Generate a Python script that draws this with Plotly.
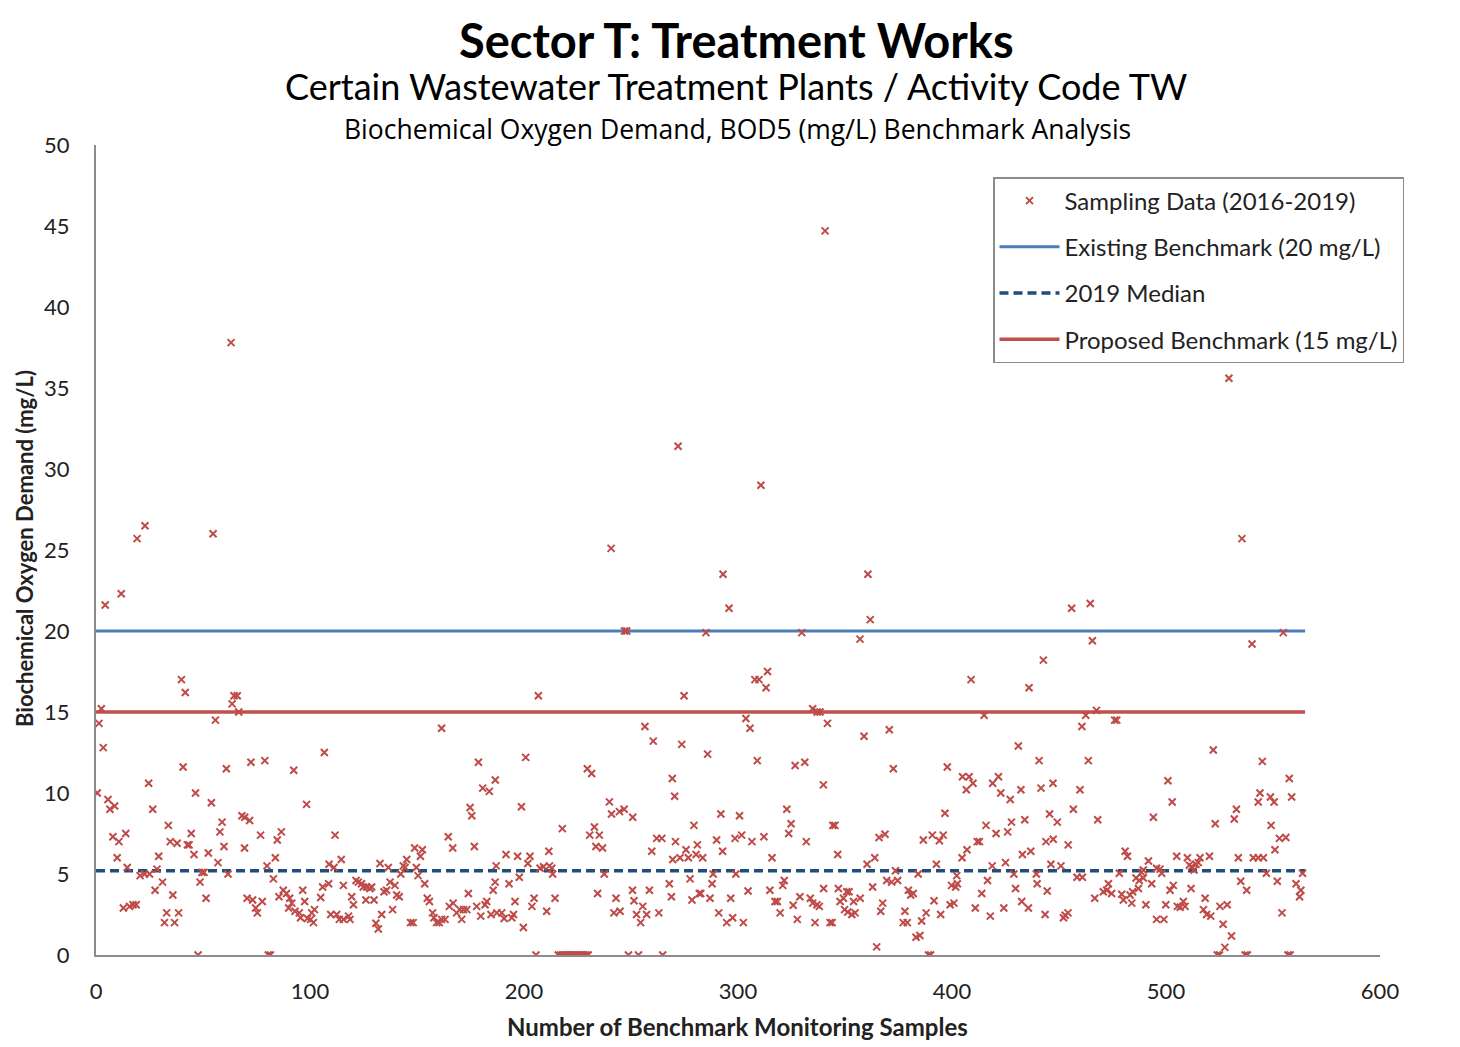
import plotly.graph_objects as go

# ---------------- data ----------------
# Sample number (x) and BOD5 value in mg/L (y), in segments along the x axis
seg1_x = [4.3, 11.8, 39.9, 41.7, 64.5, 66, 63.6, 66.7, 2.5, 1.4, 55.8, 3.4, 40.7, 60.9, 72.4, 78.9, 92.4, 0.6, 24.6, 46.5,
          5.6, 6.5, 8.7, 26.5, 53.9, 33.8, 68.2, 69.5, 71.8, 58.9, 57.9, 7.9, 10.7, 13.9, 34.7, 37.9, 42.7, 43.5, 44.5, 59.8,
          69.4, 76.9, 84.7, 86.6, 9.9, 29.3, 45.8, 52.5, 57.0, 83.8, 14.6, 28.5, 79.9, 20.6, 22.7, 25.0, 49.5, 50.5, 61.7, 31.1,
          48.6, 82.9, 27.6, 35.9, 51.4, 70.6, 73.2, 74.6, 75.4, 77.7, 85.5, 87.5, 89, 90.5, 91.5, 90, 93, 12.8, 15.7, 17.3,
          18.8, 33.0, 38.6, 32.0, 36.7, 47.7, 80.5, 81.5, 19.2, 22.9, 54.7, 63.1]
seg1_y = [21.6, 22.3, 17.0, 16.2, 16.0, 16.0, 15.5, 15.0, 15.2, 14.3, 14.5, 12.8, 11.6, 11.5, 11.9, 12.0, 11.4, 10.0, 10.6, 10.0,
          9.6, 9.0, 9.2, 9.0, 9.4, 8.0, 8.6, 8.5, 8.3, 8.2, 7.6, 7.3, 7.0, 7.5, 7.0, 6.9, 6.8, 6.8, 7.5, 6.7,
          6.6, 7.4, 7.1, 7.6, 6.0, 6.1, 6.2, 6.3, 5.7, 6.0, 5.4, 5.3, 5.5, 4.9, 5.0, 5.0, 5.1, 5.1, 5.0, 4.5,
          4.5, 4.7, 4.0, 3.7, 3.5, 3.5, 3.4, 2.9, 2.6, 3.3, 3.6, 4.0, 3.8, 3.5, 3.2, 2.9, 2.7, 2.9, 3.0, 3.1,
          3.1, 2.6, 2.6, 2.0, 2.0, 0, 0, 0, 25.7, 26.5, 26.0, 37.8]

seg2_x = [106.7, 98.4, 111.7, 114.6, 108.9, 111.2, 108.7, 105.9, 115.6, 95.0, 95.6, 96.6, 97.5, 98.8, 100.3, 101.6, 100.8, 102.1, 105.0, 109.7,
          112.5, 113.7, 115.6, 118.0, 118.7, 119.5, 120.3, 121.5, 122.6, 124.1, 124.9, 126.5, 128.0, 128.8, 126.1, 129.9, 130.8, 131.9, 133.5, 132.7,
          134.6, 135.8, 136.6, 137.4, 139.7, 140.5, 141.7, 138.6, 142.4, 143.6, 145.2, 144.4, 147.0, 148.2, 148.9, 149.7, 150.5, 151.6, 152.5, 153.6,
          154.8, 155.8, 157.3, 157.9, 159.2, 160.4, 161.5, 163.1, 161.5, 164.6, 166.7, 165.1, 166.9, 168.5, 170.0, 170.9, 171.7, 173.3, 174.8, 175.6,
          174.0, 176.8, 178.7, 180.7, 183.8, 186.6, 177.9, 179.8, 181.8, 182.6, 184.6, 185.6, 186.5, 187.0, 187.3]
seg2_y = [12.5, 9.3, 7.4, 5.9, 5.6, 5.4, 4.4, 4.2, 4.3, 2.6, 2.3, 4.0, 3.3, 2.25, 2.2, 2.0, 2.6, 2.8, 3.55, 2.5,
          2.5, 2.2, 2.2, 2.4, 2.2, 3.6, 3.1, 4.6, 4.5, 4.4, 4.2, 4.2, 4.1, 4.2, 3.4, 3.4, 1.96, 1.6, 2.5, 5.65,
          3.9, 4.0, 5.4, 4.5, 4.3, 3.7, 3.6, 2.8, 5.0, 5.5, 5.9, 5.4, 2.0, 2.0, 6.6, 5.4, 4.9, 6.1, 6.5, 4.4,
          3.5, 3.3, 2.6, 2.3, 2.0, 2.0, 2.2, 2.2, 14.0, 7.3, 6.6, 3.0, 3.2, 2.6, 2.8, 2.2, 2.8, 2.8, 9.1, 8.6,
          3.8, 6.7, 11.9, 10.3, 10.1, 10.8, 3.0, 2.4, 3.1, 3.3, 2.5, 4.0, 4.5, 5.5, 2.6]

seg3_x = [206.7, 274.8, 247, 248, 256.5, 260.4, 273.7, 200.8, 229.6, 231.6, 269.3, 270.4, 198.8, 239.9, 240.9, 244.6, 246.8, 250.8, 217.9, 232.9,
          230.7, 235.2, 233.6, 236.7, 279.4, 259.7, 262.0, 264.4, 270.8, 275.7, 281.0, 269.5, 272.9, 276.8, 280.4, 191.6, 197.0, 202.8, 201.8, 197.8,
          207.5, 209.1, 211.9, 213.0, 213.4, 211.6, 237.5, 277.6, 193.0, 204.7, 203.7, 210.6, 214.5, 195.8, 199.7, 189.6, 190.7, 194.3, 195.1, 234.4,
          243.0, 242.0, 244.9, 250.7, 251.4, 255.5, 252.6, 257.3, 254.5, 258.6, 263.0, 267.9, 268.9, 278.5, 281.9, 205.6, 216, 217, 218, 219,
          220, 221, 222, 223, 224, 225, 226, 227, 228, 229, 230, 248.8, 253.5, 264.8, 240.7, 272]
seg3_y = [16.0, 16.0, 20.0, 20.0, 14.1, 13.2, 13.0, 12.2, 11.5, 11.2, 10.9, 9.8, 9.15, 9.45, 8.7, 8.85, 9.0, 8.5, 7.8, 7.9,
          7.4, 7.4, 6.7, 6.6, 8.0, 6.4, 7.2, 7.2, 7.0, 6.5, 6.8, 5.9, 6.0, 6.0, 6.2, 6.2, 6.1, 6.1, 5.65, 4.8,
          5.35, 5.45, 5.5, 5.35, 5.0, 6.4, 5.0, 4.7, 4.4, 3.5, 3.0, 2.7, 3.5, 3.3, 1.7, 2.6, 2.25, 2.3, 2.5, 3.8,
          3.5, 2.6, 2.7, 4.0, 3.35, 3.0, 2.5, 2.5, 2.0, 4.0, 2.6, 4.4, 3.6, 3.4, 3.8, 0, 0, 0, 0, 0,
          0, 0, 0, 0, 0, 0, 0, 0, 0, 0, 0, 0, 0, 0, 25.1, 31.4]

seg4_x = [295.8, 361.8, 285, 329.8, 357, 307.9, 309.8, 313.8, 313.1, 334.9, 337.0, 338.3, 303.7, 305.6, 341.8, 358.9, 370.7, 372.6, 285.8, 309,
          326.7, 331.2, 339.9, 292, 300.7, 322.8, 324.8, 323.7, 344.3, 345.3, 283.5, 290, 292.8, 298.6, 301.7, 306.5, 312.1, 315.9, 331.9, 346.6,
          360.3, 363.9, 365.9, 368.7, 288.4, 299, 321.6, 320.9, 373.6, 369.5, 371.8, 374.6, 287.9, 282.6, 286.9, 296.6, 304.7, 314.9, 317.3, 318.4,
          319.7, 325.8, 328.9, 333.8, 334.9, 336.9, 338, 340, 346.9, 347.7, 349.3, 350.8, 349.8, 351.3, 353.2, 354.7, 354, 357.1, 351.9, 362.9,
          367.6, 366.7, 291, 294.7, 297.5, 302.5, 327.7, 336, 343, 344, 364.8, 310.7, 340.7, 360.7, 293]
seg4_y = [21.4, 20.7, 19.9, 19.9, 19.5, 17.0, 17.0, 17.5, 16.5, 15.2, 15.0, 15.0, 14.6, 14.0, 14.3, 13.5, 13.9, 11.5, 12.4, 12.0,
          11.7, 11.9, 10.5, 8.7, 8.6, 9.0, 8.1, 7.5, 8.0, 8.0, 6.0, 7.1, 6.4, 7.2, 7.4, 7.0, 7.3, 6.0, 7.0, 6.2,
          5.6, 6.0, 7.25, 7.45, 5.0, 5.0, 4.6, 4.3, 5.2, 4.6, 4.5, 4.6, 4.4, 3.8, 3.5, 3.5, 3.95, 4.0, 3.3, 3.3,
          2.6, 3.07, 3.6, 3.5, 3.2, 3.1, 3.0, 4.1, 4.1, 3.3, 3.5, 3.9, 2.8, 2.65, 2.5, 2.6, 3.3, 3.5, 3.9, 4.2,
          3.2, 2.7, 2.6, 2.0, 2.3, 2.0, 2.2, 2.0, 2.0, 2.0, 0.5, 29.0, 44.7, 23.5, 23.5]

seg5_x = [455.9, 464.6, 465.6, 442.7, 408.9, 436, 415, 462.5, 460.7, 467.5, 431, 440.7, 463.7, 397.8, 404.9, 408, 406.7, 409.8, 419.0, 421.7,
          422.8, 427.2, 432.2, 441.6, 447.2, 459.8, 396.7, 415.9, 427.8, 434, 445.6, 449.2, 456.7, 468.1, 386.6, 390.8, 394.1, 395.9, 411.8, 412.8,
          420.6, 426, 407, 404.7, 432.9, 436.8, 443.9, 447.3, 454.3, 392.7, 418.8, 425, 446.2, 450.9, 384.2, 402.2, 399.8, 402.5, 401.7, 428.9,
          439.4, 458.4, 460.9, 416.6, 439.8, 379.6, 380.7, 381.9, 413.9, 429.7, 444.5, 391.6, 399.1, 400.9, 432.6, 435.7, 466.7, 378, 387.9, 394.7,
          385.8, 377.2, 379.1, 410.9, 417.9, 424.2, 443.5, 452.1, 452.9, 454.2, 383.2, 385.0, 389, 390]
seg5_y = [21.4, 21.7, 19.4, 18.2, 17.0, 16.5, 14.8, 14.8, 14.1, 15.1, 12.9, 12.0, 12.0, 11.6, 11.0, 11.0, 10.2, 10.6, 10.6, 11.0,
          10.0, 9.6, 10.2, 10.3, 10.6, 10.2, 8.75, 8.0, 8.2, 8.35, 8.7, 8.2, 9.0, 8.35, 7.1, 7.4, 7.05, 7.4, 7.0, 7.0,
          7.5, 7.6, 6.5, 6.0, 6.2, 6.4, 7.0, 7.15, 6.8, 5.6, 5.5, 5.7, 5.6, 5.5, 5.0, 4.9, 4.3, 4.4, 4.2, 5.0,
          5.0, 4.8, 4.8, 4.6, 4.4, 4.0, 3.7, 3.8, 3.8, 4.1, 3.95, 3.35, 3.1, 3.2, 3.3, 2.9, 3.5, 2.7, 2.6, 2.5,
          2.1, 2.0, 2.0, 2.9, 2.4, 2.9, 2.5, 2.3, 2.45, 2.6, 1.1, 1.2, 0, 0]

seg6_x = [540.2, 554.8, 476, 477, 522.1, 545, 500.9, 502.9, 557.6, 558.7, 543.9, 543.1, 548.8, 550.5, 532.9, 531.9, 494.1, 523, 549.1, 553,
          556, 550.9, 480.9, 482, 491.8, 505, 510, 515.9, 520.3, 533.8, 540.8, 543.1, 545.5, 510.9, 512, 513.1, 514, 515.1, 495.6, 497.2,
          498, 478.2, 488.6, 489.4, 546.9, 563.8, 486, 487.5, 489.4, 493.3, 534.9, 537.7, 552, 470.7, 472.3, 473.1, 474.6, 479.3, 480.1, 483.2,
          484.4, 484.0, 487.1, 501.9, 503.4, 499.9, 490.6, 511.7, 505.3, 506.6, 508.1, 508.9, 518.3, 517.5, 519.0, 520.9, 525.2, 528.6, 526.7, 530.6,
          527.5, 560.8, 563, 562.4, 554.2, 495.6, 499, 524, 525, 537, 538, 557, 558, 529.4, 535.5]
seg6_y = [19.2, 19.9, 14.5, 14.5, 12.65, 11.95, 10.76, 9.44, 10.9, 9.75, 10.0, 9.44, 9.75, 9.44, 9.0, 8.4, 8.5, 8.1, 8.0, 7.2,
          7.25, 6.5, 6.4, 6.1, 5.8, 6.1, 6.0, 6.0, 6.1, 6.0, 6.0, 6.0, 6.0, 5.55, 5.45, 5.25, 5.6, 5.7, 5.35, 5.3,
          5.05, 5.05, 5.1, 5.25, 5.05, 5.05, 4.75, 4.6, 4.75, 4.4, 4.55, 4.0, 4.55, 3.9, 4.0, 4.4, 3.8, 3.75, 3.4, 3.7,
          3.9, 3.2, 4.1, 4.0, 4.3, 3.1, 3.1, 4.1, 3.0, 2.95, 3.3, 3.0, 3.5, 2.8, 2.5, 2.4, 3.0, 3.1, 1.9, 1.17,
          0.47, 4.4, 4.0, 3.6, 2.6, 2.2, 2.2, 0, 0, 0, 0, 0, 0, 35.6, 25.7]

sample_no = seg1_x + seg2_x + seg3_x + seg4_x + seg5_x + seg6_x
bod_mgL = seg1_y + seg2_y + seg3_y + seg4_y + seg5_y + seg6_y

line_x = [0, 565]
existing_benchmark = 20
median_2019 = 5.2
proposed_benchmark = 15

x_ticks = [0, 100, 200, 300, 400, 500, 600]
y_ticks = [0, 5, 10, 15, 20, 25, 30, 35, 40, 45, 50]

# ---------------- figure ----------------
fig = go.Figure()
fig.add_trace(go.Scatter(x=line_x, y=[existing_benchmark] * 2, mode="lines",
                         name="Existing Benchmark (20 mg/L)", legendrank=2, legendgroup="b",
                         line=dict(color="#4A7EBB", width=3)))
fig.add_trace(go.Scatter(x=line_x, y=[median_2019] * 2, mode="lines",
                         name="2019 Median", legendrank=3, legendgroup="c",
                         line=dict(color="#1F4E79", width=3.5, dash="9px,5px")))
fig.add_trace(go.Scatter(x=line_x, y=[proposed_benchmark] * 2, mode="lines",
                         name="Proposed Benchmark (15 mg/L)", legendrank=4, legendgroup="d",
                         line=dict(color="#C0504D", width=3.5)))
fig.add_trace(go.Scatter(x=sample_no, y=bod_mgL, mode="markers",
                         name="Sampling Data (2016-2019)", legendrank=1, legendgroup="a",
                         marker=dict(symbol="x-thin", size=7,
                                     line=dict(color="#BE4B48", width=2), color="#BE4B48")))

title_font = "Lato, 'Open Sans', sans-serif"

# page offset (body margin) and pixel geometry
OFF = 8
W, H = 1460, 1047
plot_left, plot_right, plot_top, plot_bottom = 96 - OFF, 1380 - OFF, 145 - OFF, 955 - OFF
L, R, T, B = plot_left, W - plot_right, plot_top, H - plot_bottom
pw, ph = W - L - R, H - T - B


def px_to_paper(xs, ys):
    return ((xs - OFF) - L) / pw, (H - B - (ys - OFF)) / ph


def ann(text, xs, ys, size, family=title_font, angle=0, color="#000"):
    x, y = px_to_paper(xs, ys)
    return dict(text=text, x=x, y=y, xref="paper", yref="paper", xanchor="center", yanchor="middle",
                showarrow=False, textangle=angle, font=dict(family=family, size=size, color=color))


lx, ly = px_to_paper(993, 177)
tick_font = dict(family=title_font, size=22, color="#222")

fig.update_layout(
    width=W, height=H,
    paper_bgcolor="white", plot_bgcolor="white",
    margin=dict(l=L, r=R, t=T, b=B),
    showlegend=True,
    legend=dict(x=lx, y=ly, xanchor="left", yanchor="top",
                bgcolor="white", bordercolor="#8C8C8C", borderwidth=1.5,
                font=dict(family=title_font, size=24, color="#222"),
                itemwidth=60, tracegroupgap=12, traceorder="grouped"),
    xaxis=dict(range=[0, 600], tickvals=x_ticks, showgrid=False, zeroline=False,
               showline=True, linecolor="#8C8C8C", linewidth=2, ticks="",
               ticklabelstandoff=16, tickfont=tick_font),
    yaxis=dict(range=[0, 50], tickvals=y_ticks, showgrid=False, zeroline=False,
               showline=True, linecolor="#8C8C8C", linewidth=2, ticks="",
               ticklabelstandoff=20, tickfont=tick_font),
    annotations=[
        ann("<b>Sector T: Treatment Works</b>", 736, 40, 47),
        ann("Certain Wastewater Treatment Plants / Activity Code TW", 736, 86, 36),
        ann("Biochemical Oxygen Demand, BOD5 (mg/L) Benchmark Analysis", 737, 129, 26.5,
            family="'Open Sans', sans-serif"),
        ann("<b>Number of Benchmark Monitoring Samples</b>", 737, 1027, 24, color="#222"),
        ann("<b>Biochemical Oxygen Demand (mg/L)</b>", 24, 549, 22, angle=-90, color="#222"),
    ],
)

fig.write_html("out.html")
